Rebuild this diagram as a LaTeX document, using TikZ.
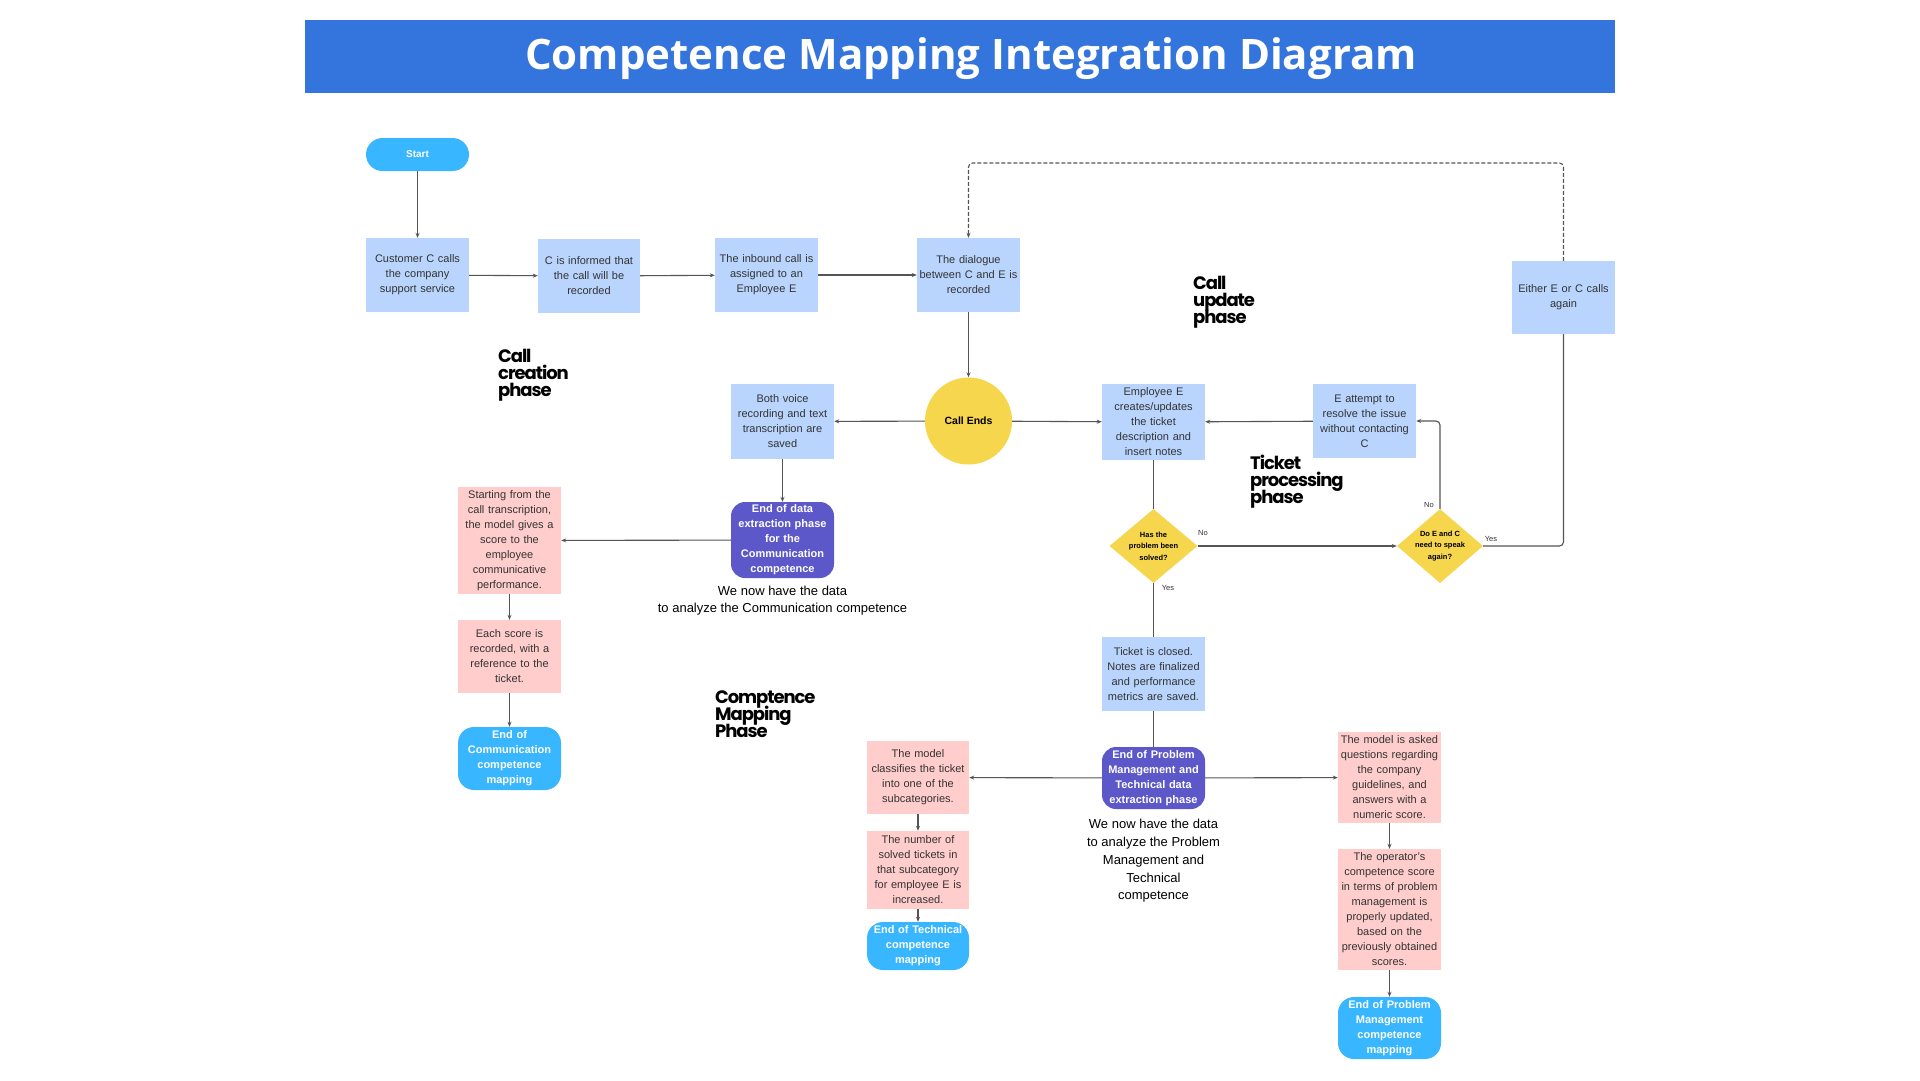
\documentclass[tikz,border=0pt]{standalone}
\usepackage{fontspec}
\setmainfont{Liberation Sans}
\newfontfamily\titlefont{Open Sans}
\newfontfamily\phasefont[LetterSpace=-6]{Poppins}
\newcommand\phasesetup{\phasefont\bfseries\fontsize{18}{17}\selectfont\lineskiplimit=-30pt\relax}
\usetikzlibrary{shapes.geometric,arrows.meta}

\definecolor{titleblue}{HTML}{3375DC}
\definecolor{boxblue}{HTML}{B9D5FE}
\definecolor{boxpink}{HTML}{FFCDCC}
\definecolor{endsky}{HTML}{38B6FF}
\definecolor{extpurple}{HTML}{5D58C9}
\definecolor{decyellow}{HTML}{F5D64C}
\definecolor{linegray}{HTML}{555555}
\definecolor{textgray}{HTML}{333333}

\tikzset{
  conn/.style={draw=linegray, line width=1.1pt},
  arr/.style={conn, -{Stealth[length=5pt,width=4pt]}},
  box/.style={rectangle, fill=boxblue, inner sep=0pt, minimum width=103pt, minimum height=74pt,
    text width=101pt, align=center, text=textgray, font=\fontsize{11}{15}\selectfont},
  pinkbox/.style={box, fill=boxpink},
  extnode/.style={rectangle, rounded corners=14pt, fill=extpurple, inner sep=0pt, minimum width=103pt,
    text width=101pt, align=center, text=white, font=\bfseries\fontsize{11}{15}\selectfont},
  endnode/.style={extnode, fill=endsky, rounded corners=16pt},
  decision/.style={diamond, fill=decyellow, inner sep=0pt, minimum width=88pt, minimum height=74pt},
  dectext/.style={font=\bfseries\fontsize{7.5}{11.5}\selectfont, align=center, text=black},
  branch/.style={font=\fontsize{7.5}{9}\selectfont, text=textgray, inner sep=0pt},
  phase/.style={anchor=north west, align=left, inner sep=0pt, text=black, font=\phasesetup},
  note/.style={align=center, inner sep=0pt, text=black, font=\fontsize{13}{17.7}\selectfont}
}

\begin{document}
\begin{tikzpicture}[x=1pt,y=-1pt]
\useasboundingbox (0,0) rectangle (1920,1080);
\fill[white] (0,0) rectangle (1920,1080);

% title bar
\fill[titleblue] (305,20) rectangle (1615,93);
\node[text=white, font=\titlefont\bfseries\fontsize{42}{48}\selectfont, inner sep=0pt] (title) at (971,59) {Competence Mapping Integration Diagram};

% nodes
\node[endnode, minimum height=33pt, rounded corners=16.5pt, font=\bfseries\fontsize{10}{12}\selectfont] (start) at (417.5,154.5) {Start};
\node[box] (cust) at (417.5,275) {Customer C calls\\the company\\support service};
\node[box, minimum width=102pt] (inform) at (589,276) {C is informed that\\the call will be\\recorded};
\node[box] (assign) at (766.5,275) {The inbound call is\\assigned to an\\Employee E};
\node[box] (dialog) at (968.5,275) {The dialogue\\between C and E is\\recorded};
\node[box, minimum height=73pt] (again) at (1563.5,297.5) {Either E or C calls\\again};

\node[circle, fill=decyellow, minimum size=87pt, inner sep=0pt, font=\bfseries\fontsize{10.5}{12}\selectfont] (callends) at (968.5,421) {Call Ends};

\node[box, minimum height=75pt] (voice) at (782.5,421.5) {Both voice\\recording and text\\transcription are\\saved};
\node[box, minimum height=76pt] (emp) at (1153.5,422) {Employee E\\creates/updates\\the ticket\\description and\\insert notes};
\node[box] (attempt) at (1364.5,421) {E attempt to\\resolve the issue\\without contacting\\C};

\node[decision, label={[dectext]center:Has the\\problem been\\solved?}] (solved) at (1153.5,546) {};
\node[decision, minimum width=86pt, label={[dectext]center:Do E and C\\need to speak\\again?}] (speak) at (1440,546) {};

\node[box] (closed) at (1153.5,674) {Ticket is closed.\\Notes are finalized\\and performance\\metrics are saved.};
\node[extnode, minimum height=62pt] (pmext) at (1153.5,778) {End of Problem\\Management and\\Technical data\\extraction phase};
\node[note] (pmnote) at (1153.5,861) {We now have the data\\to analyze the Problem\\Management and\\Technical\\competence};

\node[pinkbox, minimum width=102pt, minimum height=73pt] (classify) at (918,777.5) {The model\\classifies the ticket\\into one of the\\subcategories.};
\node[pinkbox, minimum width=102pt, minimum height=78pt] (numsolved) at (918,870) {The number of\\solved tickets in\\that subcategory\\for employee E is\\increased.};
\node[endnode, minimum width=102pt, minimum height=48pt] (endtech) at (918,946) {End of Technical\\competence\\mapping};

\node[pinkbox, minimum height=91pt] (asked) at (1389.5,777.5) {The model is asked\\questions regarding\\the company\\guidelines, and\\answers with a\\numeric score.};
\node[pinkbox, minimum height=121pt] (operator) at (1389.5,909.5) {The operator's\\competence score\\in terms of problem\\management is\\properly updated,\\based on the\\previously obtained\\scores.};
\node[endnode, minimum height=62pt] (endpm) at (1389.5,1028) {End of Problem\\Management\\competence\\mapping};

\node[extnode, minimum height=76pt] (commext) at (782.5,540) {End of data\\extraction phase\\for the\\Communication\\competence};
\node[note] (commnote) at (782.5,600.5) {We now have the data\\to analyze the Communication competence};

\node[pinkbox, minimum height=107pt] (startfrom) at (509.5,540.5) {Starting from the\\call transcription,\\the model gives a\\score to the\\employee\\communicative\\performance.};
\node[pinkbox, minimum height=73pt] (eachscore) at (509.5,656.5) {Each score is\\recorded, with a\\reference to the\\ticket.};
\node[endnode, minimum height=63pt] (endcomm) at (509.5,758.5) {End of\\Communication\\competence\\mapping};

% phase labels
\node[phase] (ph1) at (498,349) {Call\\creation\\phase};
\node[phase] (ph2) at (1193,276) {Call\\update\\phase};
\node[phase] (ph3) at (1250,455) {Ticket\\processing\\phase};
\node[phase] (ph4) at (715,691) {Comptence\\Mapping\\Phase};

% branch labels
\node[branch] (nosolved) at (1203,533) {No};
\node[branch] (nospeak) at (1429,505) {No};
\node[branch] (yesspeak) at (1491,539) {Yes};
\node[branch] (yessolved) at (1168,588) {Yes};

% loop coordinates
\coordinate (loopR) at (1563.5,163);
\coordinate (loopL) at (968.5,163);

% connectors
\draw[arr] (start) -- (cust);
\draw[arr] (cust) -- (inform);
\draw[arr] (inform) -- (assign);
\draw[arr] (assign) -- (dialog);
\draw[arr] (dialog) -- (callends);
\draw[arr] (callends) -- (voice);
\draw[arr] (voice) -- (commext);
\draw[arr] (commext) -- (startfrom);
\draw[arr] (startfrom) -- (eachscore);
\draw[arr] (eachscore) -- (endcomm);
\draw[arr] (callends) -- (emp);
\draw[conn] (emp) -- (solved);
\draw[arr] (solved) -- (speak);
\draw[arr, rounded corners=4pt] (speak.north) |- (attempt.east);
\draw[arr] (attempt) -- (emp);
\draw[conn, rounded corners=4pt] (speak.east) -| (again.south);
\draw[arr, dashed, dash pattern=on 4pt off 2pt, rounded corners=4pt] (again.north) -- (loopR) -- (loopL) -- (dialog.north);
\draw[conn] (solved) -- (closed);
\draw[conn] (closed) -- (pmext);
\draw[arr] (pmext) -- (classify);
\draw[arr] (pmext) -- (asked);
\draw[arr] (classify) -- (numsolved);
\draw[arr] (numsolved) -- (endtech);
\draw[arr] (asked) -- (operator);
\draw[arr] (operator) -- (endpm);
\end{tikzpicture}
\end{document}
